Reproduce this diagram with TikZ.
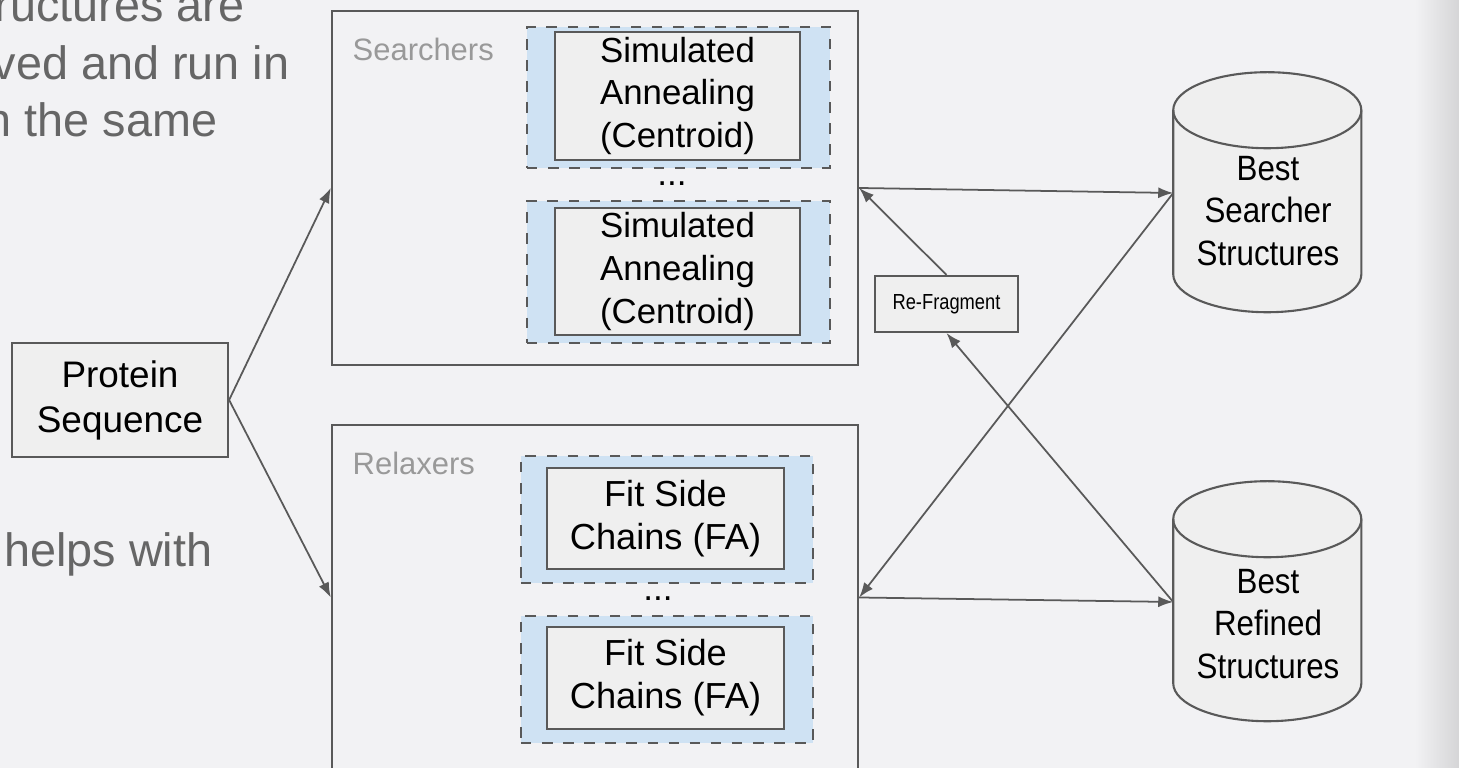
\documentclass[tikz,border=0pt]{standalone}
\usepackage{fontspec}
\setmainfont{Liberation Sans}
\newfontfamily\dbfont[FakeStretch=0.89]{Liberation Sans}
\newfontfamily\tagfont[FakeStretch=0.84]{Liberation Sans}
\usetikzlibrary{arrows.meta}
\definecolor{pagebg}{RGB}{242,242,244}
\definecolor{boxfill}{RGB}{239,239,239}
\definecolor{edge}{RGB}{89,89,89}
\definecolor{paleblue}{RGB}{207,226,243}
\definecolor{slidetext}{RGB}{102,102,102}
\definecolor{grouplabel}{RGB}{153,153,153}
\begin{document}
\begin{tikzpicture}[
    x=0.01cm, y=-0.01cm,
    every node/.style={inner sep=0pt, align=center},
    box/.style={draw=edge, fill=boxfill, line width=0.6pt},
    group/.style={draw=edge, line width=0.6pt, minimum width=5.26cm},
    worker/.style={draw=edge, dashed, fill=paleblue, line width=0.5pt},
    grouplab/.style={anchor=west, text=grouplabel, font=\fontsize{8.8}{10}\selectfont},
    note/.style={anchor=base east, text=slidetext, font=\fontsize{13.3}{16}\selectfont},
    dbshape/.style={minimum width=1.88cm, minimum height=2.40cm},
    dbline/.style={draw=edge, fill=boxfill, line width=0.6pt},
    dbtext/.style={font=\dbfont\fontsize{10}{12.2}\selectfont},
    link/.style={draw=edge, line width=0.5pt, -{Latex[length=1.5mm,width=1.1mm]}}
]
\fill[pagebg] (0,0) rectangle (1459,768);
\shade[left color=pagebg, right color=pagebg!88!black] (1415,0) rectangle (1459,768);
\useasboundingbox (0,0) rectangle (1459,768);

% slide text behind the diagram
\node[note] (n1) at (245,22) {ructures are};
\node[note] (n2) at (290,80) {ved and run in};
\node[note] (n3) at (218,137) {n the same};
\node[note] (n4) at (213,567) {helps with};

\node[box, minimum width=2.16cm, minimum height=1.14cm,
      font=\fontsize{10.5}{12.8}\selectfont] (prot) at (120,400) {Protein\\Sequence};

% searchers
\node[group, minimum height=3.54cm] (search) at (595,188) {};
\node[grouplab] (searchlab) at (352,49) {Searchers};
\node[worker, minimum width=3.03cm, minimum height=1.41cm] (sa1w) at (678.5,97.5) {};
\node[box, minimum width=2.45cm, minimum height=1.28cm,
      font=\fontsize{9.9}{12.2}\selectfont] (sa1) at (677.5,96) {Simulated\\Annealing\\(Centroid)};
\node[anchor=base, font=\fontsize{10}{12}\selectfont] (sadots) at (672,186) {...};
\node[worker, minimum width=3.03cm, minimum height=1.42cm] (sa2w) at (678.5,272) {};
\node[box, minimum width=2.45cm, minimum height=1.27cm,
      font=\fontsize{9.9}{12.2}\selectfont] (sa2) at (677.5,271.5) {Simulated\\Annealing\\(Centroid)};

% relaxers
\node[group, minimum height=3.45cm] (relax) at (595,597.5) {};
\node[grouplab] (relaxlab) at (352,463) {Relaxers};
\node[worker, minimum width=2.92cm, minimum height=1.27cm] (fit1w) at (667,519.5) {};
\node[box, minimum width=2.37cm, minimum height=1.01cm,
      font=\fontsize{10.3}{12.2}\selectfont] (fit1) at (665.5,518.5) {Fit Side\\Chains (FA)};
\node[anchor=base, font=\fontsize{10}{12}\selectfont] (fitdots) at (658,601) {...};
\node[worker, minimum width=2.92cm, minimum height=1.27cm] (fit2w) at (667,679.5) {};
\node[box, minimum width=2.37cm, minimum height=1.02cm,
      font=\fontsize{10.3}{12.2}\selectfont] (fit2) at (665.5,678) {Fit Side\\Chains (FA)};

\node[box, minimum width=1.43cm, minimum height=0.56cm,
      font=\tagfont\fontsize{6.2}{7.5}\selectfont] (refrag) at (946.5,304) {Re-Fragment};

% databases
\node[dbshape] (bsdb) at (1268,193) {};
\node[dbshape] (brdb) at (1268,602) {};
\foreach \db in {bsdb,brdb}{
  \path[dbline] (\db.north west) ++(0,38) -- ++(0,164)
    arc[start angle=180, end angle=360, x radius=0.94cm, y radius=0.38cm] -- ++(0,-164)
    arc[start angle=0, end angle=180, x radius=0.94cm, y radius=0.38cm] -- cycle;
  \draw[edge, line width=0.6pt] (\db.north west) ++(0,38)
    arc[start angle=180, end angle=360, x radius=0.94cm, y radius=0.38cm];
}
\node[dbtext] (bstext) at (1268,211) {Best\\Searcher\\Structures};
\node[dbtext] (brtext) at (1268,624) {Best\\Refined\\Structures};

\draw[link] (prot.east) -- (search.west);
\draw[link] (prot.east) -- (relax.west);
\draw[link] (search.east) -- (bsdb.west);
\draw[link] (relax.east) -- (brdb.west);
\draw[link] (bsdb.west) -- (relax.east);
\draw[link] (brdb.west) -- (refrag.south);
\draw[link] (refrag.north) -- (search.east);
\end{tikzpicture}
\end{document}
